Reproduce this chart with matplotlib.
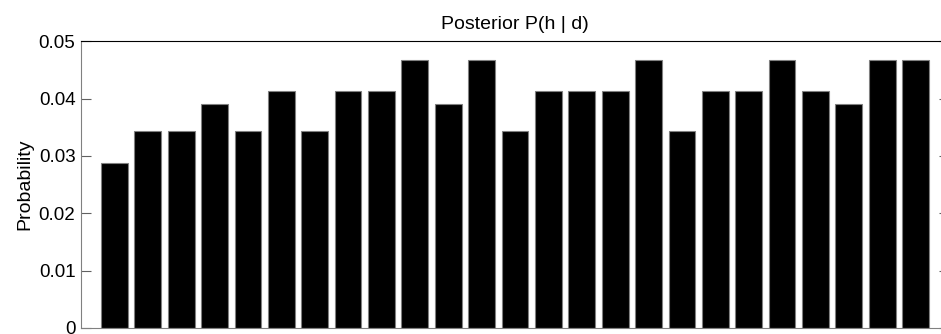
# Posterior bar chart
import matplotlib
matplotlib.use("Agg")
import matplotlib.pyplot as plt

# Data
hypotheses = list(range(1, 26))
posterior = [0.0287, 0.0344, 0.0344, 0.0390, 0.0344, 0.0413, 0.0344, 0.0413,
             0.0413, 0.0468, 0.0390, 0.0468, 0.0344, 0.0413, 0.0413, 0.0413,
             0.0468, 0.0344, 0.0413, 0.0413, 0.0468, 0.0413, 0.0390, 0.0468,
             0.0468]
yticks = [0, 0.01, 0.02, 0.03, 0.04, 0.05]
ytick_labels = ["0", "0.01", "0.02", "0.03", "0.04", "0.05"]

plt.rcParams["font.family"] = ["Liberation Sans", "DejaVu Sans"]

fig = plt.figure(figsize=(9.41, 3.34), dpi=100)
ax = fig.add_axes([81 / 941, 6 / 334, 868 / 941, 286.7 / 334])

ax.bar(hypotheses, posterior, width=0.8, color="black", edgecolor="#808080", linewidth=0.8)

ax.set_xlim(0, 26)
ax.set_ylim(0, 0.05)
ax.set_xticks([])
ax.set_yticks(yticks)
ax.set_yticklabels(ytick_labels, fontsize=13.5)
ax.tick_params(axis="y", direction="in", length=7, width=0.8, color="#606060",
               left=True, right=True, pad=4)

ax.spines["top"].set_color("black")
ax.spines["left"].set_color("#808080")
ax.spines["bottom"].set_color("#808080")
ax.spines["right"].set_color("#808080")

ax.set_ylabel("Probability", fontsize=14, labelpad=4)
ax.set_title("Posterior P(h | d)", fontsize=14, pad=9)

plt.savefig("out.png", dpi=100)
plt.close()
